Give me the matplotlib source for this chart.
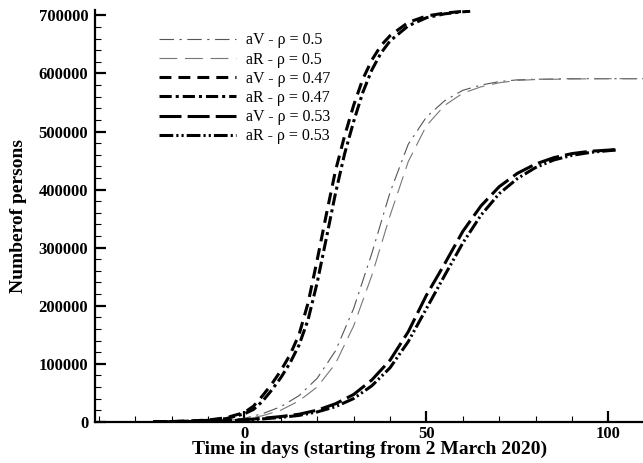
import matplotlib.pyplot as plt
from matplotlib.ticker import MultipleLocator

# days since 2 March 2020
t_05 = [-25, -20, -15, -10, -5, 0, 5, 10, 15, 20, 25, 30, 35, 40, 45, 50,
        55, 60, 65, 70, 75, 80, 90, 100, 110]
aV_05 = [0, 300, 800, 1500, 3000, 6000, 14000, 26000, 45000, 75000, 122000,
         195000, 290000, 395000, 478000, 525000, 553000, 571000, 580000,
         586000, 589000, 590000, 591000, 591000, 591000]
aR_05 = [0, 200, 600, 1200, 2400, 4500, 10500, 20000, 36000, 60000, 100000,
         165000, 252000, 355000, 448000, 510000, 545000, 566000, 577000,
         584000, 588000, 589500, 590500, 591000, 591000]

t_047 = [-25, -20, -15, -10, -5, 0, 2.5, 5, 7.5, 10, 12.5, 15, 17.5, 20,
         22.5, 25, 27.5, 30, 32.5, 35, 37.5, 40, 45, 50, 55, 60, 62]
aV_047 = [0, 500, 1500, 3000, 7000, 16000, 27000, 45000, 65000, 88000,
          115000, 150000, 205000, 279000, 357000, 432000, 492000, 545000,
          590000, 623000, 648000, 665000, 688000, 699000, 704000, 707000,
          708000]
aR_047 = [0, 400, 1200, 2500, 5500, 13700, 21300, 35600, 54600, 76000,
          101000, 132000, 176000, 240000, 316000, 393000, 461000, 517000,
          567000, 606000, 635000, 656000, 682000, 696000, 702700, 706200,
          707200]

t_053 = [-25, -20, -15, -10, -5, 0, 5, 10, 15, 20, 25, 30, 35, 40, 45, 50,
         55, 60, 65, 70, 75, 80, 85, 90, 95, 100, 102]
aV_053 = [0, 200, 500, 1000, 2000, 3500, 6000, 9000, 13000, 20000, 31000,
          47000, 72000, 106000, 155000, 218000, 272000, 328000, 372000,
          405000, 428000, 444000, 455000, 462000, 466000, 468000, 469000]
aR_053 = [0, 150, 400, 800, 1600, 3000, 5000, 7500, 11000, 17000, 26000,
          40000, 62000, 93000, 138000, 195000, 252000, 308000, 356000,
          393000, 419000, 438000, 451000, 459000, 464000, 467000, 468000]

plt.rcParams['font.family'] = ['Liberation Serif', 'DejaVu Serif']

fig = plt.figure(figsize=(6.43, 4.63), dpi=100)
ax = fig.add_axes([0.148, 0.089, 0.852, 0.889])

ax.plot(t_05, aV_05, color='#555555', lw=0.8, ls=(0, (13, 5, 2, 5)),
        label='aV - ρ = 0.5')
ax.plot(t_05, aR_05, color='#777777', lw=0.8, ls=(0, (16, 7)),
        label='aR - ρ = 0.5')
ax.plot(t_047, aV_047, color='black', lw=2.2, ls=(0, (3.9, 2.3)),
        label='aV - ρ = 0.47')
ax.plot(t_047, aR_047, color='black', lw=2.2, ls=(0, (4, 1.3, 1, 1.3)),
        label='aR - ρ = 0.47')
ax.plot(t_053, aV_053, color='black', lw=2.2, ls=(0, (7.2, 2)),
        label='aV - ρ = 0.53')
ax.plot(t_053, aR_053, color='black', lw=2.2,
        ls=(0, (4.5, 1, 0.7, 1, 0.7, 1)),
        label='aR - ρ = 0.53')

ax.set_xlim(-41, 109.5)
ax.set_ylim(0, 709000)
ax.xaxis.set_major_locator(MultipleLocator(50))
ax.xaxis.set_minor_locator(MultipleLocator(10))
ax.yaxis.set_major_locator(MultipleLocator(100000))
ax.yaxis.set_minor_locator(MultipleLocator(20000))

for side in ['top', 'right']:
    ax.spines[side].set_visible(False)
for side in ['left', 'bottom']:
    ax.spines[side].set_linewidth(1.6)

ax.tick_params(which='major', direction='in', length=8, width=1.6,
               labelsize=12, pad=5)
ax.tick_params(axis='x', which='major', pad=3)
ax.tick_params(which='minor', direction='in', length=4, width=0.8)
for lbl in ax.get_xticklabels() + ax.get_yticklabels():
    lbl.set_fontweight('bold')

ax.set_xlabel('Time in days (starting from 2 March 2020)', fontsize=14,
              fontweight='bold', labelpad=-1)
ax.set_ylabel('Numberof persons', fontsize=14, fontweight='bold',
              labelpad=8)

ax.legend(loc='upper left', bbox_to_anchor=(0.238, 0.944),
          bbox_transform=fig.transFigure, frameon=False, fontsize=11.5,
          handlelength=4.8, handletextpad=0.6, labelspacing=0.2,
          borderaxespad=0)

fig.savefig('out.png', dpi=100)
